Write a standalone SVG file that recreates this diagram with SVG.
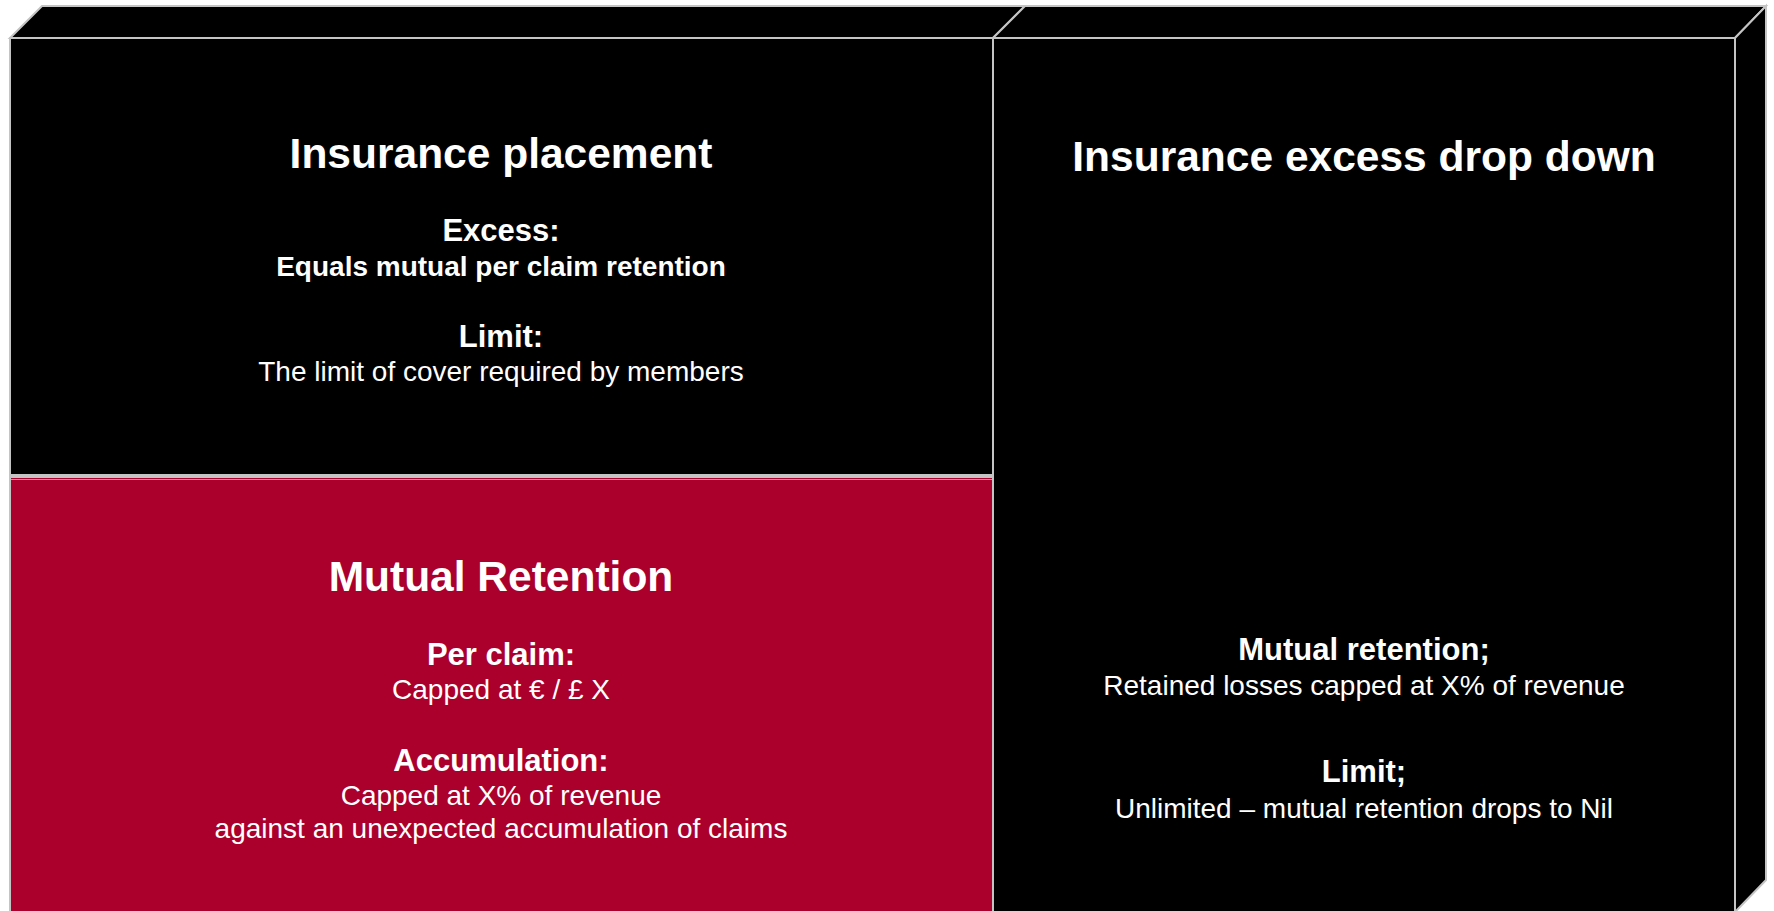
<svg xmlns="http://www.w3.org/2000/svg" width="1774" height="911" viewBox="0 0 1774 911">
  <style>
    .edge { stroke: #C4C4C4; stroke-width: 2; stroke-linejoin: miter; }
    .dark { fill: #000000; }
    .red { fill: #AB002C; }
    text { font-family: "Liberation Sans", Arial, sans-serif; fill: #FFFFFF; text-anchor: middle; }
    .h1 { font-size: 42.5px; font-weight: bold; }
    .h2 { font-size: 31px; font-weight: bold; }
    .b { font-size: 28px; font-weight: bold; }
    .r { font-size: 28px; }
  </style>
  <rect width="1774" height="911" fill="#FFFFFF"/>

  <!-- Left column, upper block: Insurance placement -->
  <g id="placement">
    <polygon class="dark edge" points="10,38 42,6 1025,6 993,38"/>
    <rect class="dark edge" x="10" y="38" width="983" height="437"/>
    <text class="h1" x="501" y="168">Insurance placement</text>
    <text class="h2" x="501" y="241">Excess:</text>
    <text class="b" x="501" y="276">Equals mutual per claim retention</text>
    <text class="h2" x="501" y="347">Limit:</text>
    <text class="r" x="501" y="381">The limit of cover required by members</text>
  </g>

  <!-- Left column, lower block: Mutual Retention -->
  <g id="retention">
    <rect class="red edge" x="10" y="477" width="983" height="460"/>
    <line x1="11" y1="479.5" x2="992" y2="479.5" stroke="#D98A9C" stroke-width="1"/>
    <text class="h1" x="501" y="591">Mutual Retention</text>
    <text class="h2" x="501" y="665">Per claim:</text>
    <text class="r" x="501" y="699">Capped at € / £ X</text>
    <text class="h2" x="501" y="771">Accumulation:</text>
    <text class="r" x="501" y="805">Capped at X% of revenue</text>
    <text class="r" x="501" y="838">against an unexpected accumulation of claims</text>
  </g>

  <!-- Right column: Insurance excess drop down -->
  <g id="dropdown">
    <polygon class="dark edge" points="993,38 1025,6 1766,6 1735,38"/>
    <polygon class="dark edge" points="1735,38 1766,6 1766,880 1735,912"/>
    <rect class="dark edge" x="993" y="38" width="742" height="900"/>
    <text class="h1" x="1364" y="171">Insurance excess drop down</text>
    <text class="h2" x="1364" y="660">Mutual retention;</text>
    <text class="r" x="1364" y="695">Retained losses capped at X% of revenue</text>
    <text class="h2" x="1364" y="782">Limit;</text>
    <text class="r" x="1364" y="818">Unlimited – mutual retention drops to Nil</text>
  </g>

  <g id="connectors"/>
</svg>
